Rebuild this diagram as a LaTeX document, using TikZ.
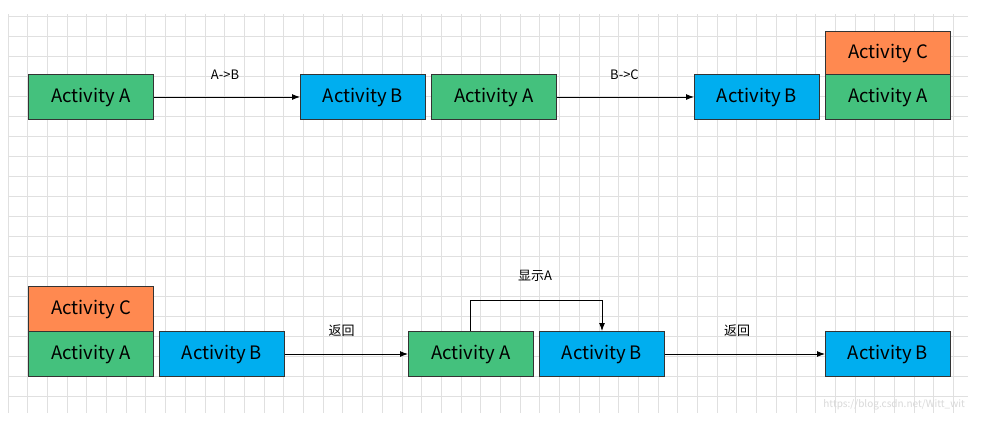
\documentclass[tikz,border=0pt]{standalone}
\usepackage{fontspec}
\setmainfont{Noto Sans CJK SC}
\usetikzlibrary{arrows.meta}
\definecolor{actgreen}{RGB}{68,193,125}
\definecolor{actblue}{RGB}{0,174,239}
\definecolor{actorange}{RGB}{255,137,80}
\definecolor{gridgray}{RGB}{224,224,224}
\definecolor{edgegray}{RGB}{51,51,51}
\tikzset{
  act/.style={draw=edgegray, line width=1pt, minimum width=125pt, minimum height=45pt,
    inner sep=0pt, anchor=north west, font=\fontsize{18.5}{18.5}\selectfont},
  actA/.style={act, fill=actgreen},
  actB/.style={act, fill=actblue},
  actC/.style={act, fill=actorange},
  flow/.style={draw=black, line width=0.9pt, -{Latex[length=8pt,width=6pt]}},
  lbl/.style={font=\fontsize{13}{13}\selectfont, inner sep=0pt}
}
\begin{document}
\begin{tikzpicture}[x=1pt,y=-1pt]
\useasboundingbox[fill=white] (0,0) rectangle (984,429);
% background grid
\begin{scope}
  \clip (8,14) rectangle (968,413);
  \foreach \i in {0,...,49} \draw[gridgray, line width=0.9pt] ({8+19.7*\i},14) -- ({8+19.7*\i},413);
  \foreach \j in {0,...,20} \draw[gridgray, line width=0.9pt] (8,{16+20*\j}) -- (968,{16+20*\j});
\end{scope}

% first row
\node[actA] (a1) at (28,74) {Activity A};
\node[actB] (b1) at (300,74) {Activity B};
\node[actA] (a2) at (431,74) {Activity A};
\node[actB] (b2) at (694,74) {Activity B};
\node[actC, minimum height=43pt] (c3) at (825,31) {Activity C};
\node[actA] (a3) at (825,74) {Activity A};
\draw[flow] (a1.east) -- node[lbl, above=17pt, xshift=-2pt] {A->B} (b1.west);
\draw[flow] (a2.east) -- node[lbl, above=17pt, xshift=-1pt] {B->C} (b2.west);

% second row
\node[actC] (c4) at (28,286) {Activity C};
\node[actA] (a4) at (28,331) {Activity A};
\node[actB] (b4) at (159,331) {Activity B};
\node[actA] (a5) at (408,331) {Activity A};
\node[actB] (b5) at (539,331) {Activity B};
\node[actB] (b6) at (825,331) {Activity B};
\draw[flow] (b4.east) -- node[lbl, above=17pt, xshift=-5pt] {返回} (a5.west);
\draw[flow] (b5.east) -- node[lbl, above=17pt, xshift=-8pt] {返回} (b6.west);
\coordinate (up1) at (470,300);
\coordinate (up2) at (602,300);
\draw[flow] (a5.north west -| up1) -- (up1) -- (up2) -- (b5.north west -| up2);
\node[lbl] (show) at (535,276) {显示A};

% site mark
\node[font=\fontsize{10}{10}\selectfont, text=black!15, inner sep=0pt, anchor=east] (mark) at (965,405) {https://blog.csdn.net/Witt\_wit};
\end{tikzpicture}
\end{document}
